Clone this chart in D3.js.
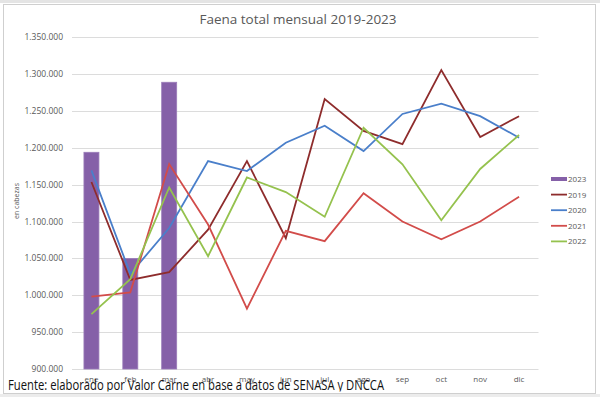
<!DOCTYPE html>
<html>
<head>
<meta charset="utf-8">
<script src="https://cdn.jsdelivr.net/npm/d3@7"></script>
<style>
  body { margin: 0; background: #fff; }
  text { font-family: "Open Sans", "Liberation Sans", sans-serif; }
</style>
</head>
<body>
<div id="chart"></div>
<script>
// months and series
var months = ["ene", "feb", "mar", "abr", "may", "jun", "jul", "ago", "sep", "oct", "nov", "dic"];
var faena2023 = [1194000, 1050000, 1289000];
var faena2019 = [1153700, 1020800, 1031300, 1089000, 1182000, 1077500, 1266300, 1223000, 1205000, 1305500, 1214800, 1243000];
var faena2020 = [1169500, 1029000, 1091300, 1182000, 1168600, 1207000, 1230000, 1195700, 1246000, 1260000, 1243000, 1213800];
var faena2021 = [998100, 1004000, 1178000, 1096000, 982000, 1087500, 1073400, 1138500, 1100000, 1076000, 1100000, 1133700];
var faena2022 = [974500, 1021800, 1146300, 1053000, 1159800, 1140000, 1106500, 1227300, 1177700, 1101800, 1171400, 1217500];
var yTicks = [900000, 950000, 1000000, 1050000, 1100000, 1150000, 1200000, 1250000, 1300000, 1350000];

var lineSeries = [
    { name: "2019", values: faena2019, color: "#8e2c2c" },
    { name: "2020", values: faena2020, color: "#4a7fca" },
    { name: "2021", values: faena2021, color: "#d24c4a" },
    { name: "2022", values: faena2022, color: "#95c24e" }
];
var barColor = "#8560a8";

var w = 600, h = 397;
var svg = d3.select("#chart").append("svg")
    .attr("width", w)
    .attr("height", h);

// clip for the source note (cut at the chart's bottom edge, like the screenshot)
svg.append("clipPath").attr("id", "noteClip")
    .append("rect").attr("x", 0).attr("y", 0).attr("width", w).attr("height", 391.5);

// chart frame
svg.append("rect").attr("x", 0).attr("y", 0).attr("width", w).attr("height", 3).attr("fill", "#e4e4e4");
svg.append("rect").attr("x", 0).attr("y", 394).attr("width", w).attr("height", 3).attr("fill", "#ececec");
svg.append("rect")
    .attr("x", 3.5).attr("y", 4.5).attr("width", 592).attr("height", 389)
    .attr("fill", "none").attr("stroke", "#cfcfcf");

var x = d3.scaleBand().domain(months).range([72, 538.5]).paddingInner(0).paddingOuter(0);
var y = d3.scaleLinear().domain([900000, 1350000]).range([369, 37.3]);

var fmt = function(d) { return d3.format(",")(d).replace(/,/g, "."); };

// gridlines
svg.append("g").selectAll("line").data(yTicks).enter().append("line")
    .attr("x1", 72).attr("x2", 538.5)
    .attr("y1", function(d) { return Math.round(y(d)) + 0.5; })
    .attr("y2", function(d) { return Math.round(y(d)) + 0.5; })
    .attr("stroke", "#dcdcdc").attr("stroke-width", 1);

// y axis labels
svg.append("g").selectAll("text").data(yTicks).enter().append("text")
    .attr("x", 63).attr("y", function(d) { return y(d) + 3; })
    .attr("text-anchor", "end")
    .attr("font-size", 8.5).attr("fill", "#595959")
    .text(fmt);

// x axis labels
svg.append("g").selectAll("text").data(months).enter().append("text")
    .attr("x", function(d) { return x(d) + x.bandwidth() / 2; })
    .attr("y", 382)
    .attr("text-anchor", "middle")
    .attr("font-size", 8).attr("fill", "#595959")
    .text(function(d) { return d; });

// bars 2023
var barW = 15;
svg.append("g").selectAll("rect").data(faena2023).enter().append("rect")
    .attr("x", function(d, i) { return x(months[i]) + x.bandwidth() / 2 - barW / 2; })
    .attr("y", function(d) { return y(d); })
    .attr("width", barW)
    .attr("height", function(d) { return y(900000) - y(d); })
    .attr("fill", barColor)
    .attr("stroke", "#9a7cb8").attr("stroke-width", 0.8);

// lines
var line = d3.line()
    .x(function(d, i) { return x(months[i]) + x.bandwidth() / 2; })
    .y(function(d) { return y(d); });

svg.append("g").selectAll("path").data(lineSeries).enter().append("path")
    .attr("d", function(s) { return line(s.values); })
    .attr("fill", "none")
    .attr("stroke", function(s) { return s.color; })
    .attr("stroke-width", 1.8)
    .attr("stroke-linejoin", "miter");

// title
svg.append("text")
    .attr("x", 298).attr("y", 24)
    .attr("text-anchor", "middle")
    .attr("font-size", 13.5).attr("fill", "#595959")
    .text("Faena total mensual 2019-2023");

// y axis title
svg.append("text")
    .attr("transform", "translate(19,201) rotate(-90)")
    .attr("text-anchor", "middle")
    .attr("font-size", 7).attr("fill", "#595959")
    .text("en cabezas");

// legend
var legendItems = [{ name: "2023", color: barColor, bar: true }].concat(lineSeries);
var lg = svg.append("g").selectAll("g").data(legendItems).enter().append("g")
    .attr("transform", function(d, i) { return "translate(551," + (179 + i * 15.6) + ")"; });
lg.append("line")
    .attr("x1", 0).attr("x2", 16).attr("y1", 0).attr("y2", 0)
    .attr("stroke", function(d) { return d.color; })
    .attr("stroke-width", function(d) { return d.bar ? 4 : 1.8; });
lg.append("text")
    .attr("x", 17).attr("y", 3)
    .attr("font-size", 8).attr("fill", "#595959")
    .text(function(d) { return d.name; });

// source note
svg.append("text")
    .attr("x", 8).attr("y", 390)
    .attr("clip-path", "url(#noteClip)")
    .attr("font-size", 14).attr("fill", "#111")
    .attr("textLength", 376).attr("lengthAdjust", "spacingAndGlyphs")
    .text("Fuente: elaborado por Valor Carne en base a datos de SENASA y DNCCA");
</script>
</body>
</html>
